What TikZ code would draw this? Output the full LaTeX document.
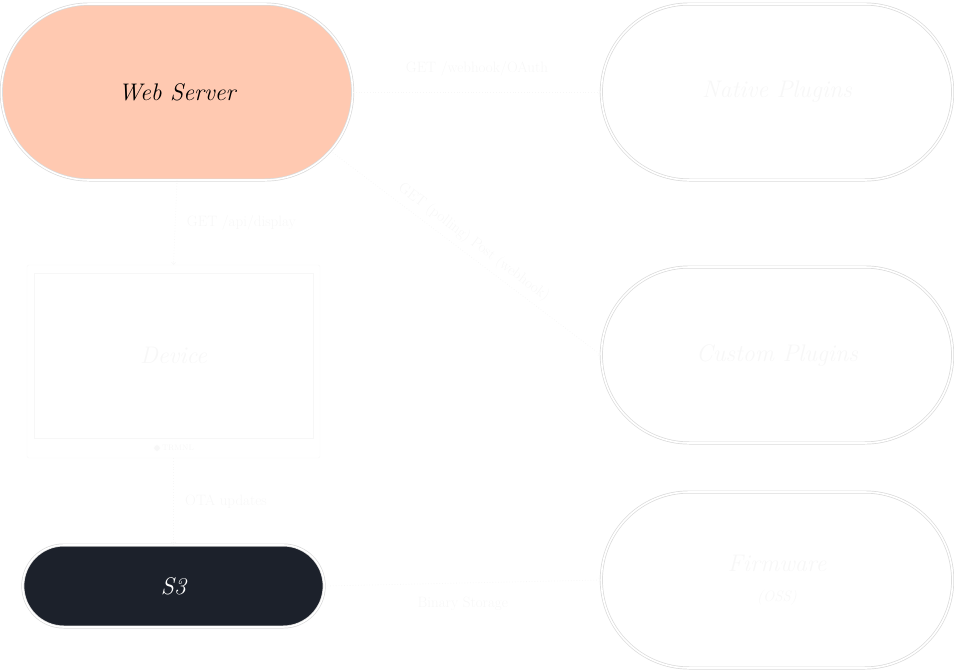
\documentclass[tikz,border=0pt]{standalone}
\usetikzlibrary{shapes.misc,shapes.geometric,positioning}
\definecolor{webpeach}{RGB}{255,201,177}
\definecolor{sdark}{RGB}{28,33,43}
\definecolor{rimgrey}{RGB}{218,218,218}
\definecolor{ghost}{RGB}{247,247,247}
\begin{document}
\begin{tikzpicture}[x=1pt,y=-1pt,
    pill/.style={draw=rimgrey, double=white, double distance=1.6pt, line width=0.7pt,
        rounded rectangle, minimum width=358pt, minimum height=176pt,
        font=\fontsize{24}{28}\selectfont\itshape, text=ghost, align=center},
    flow/.style={->, ghost, dotted, line width=0.8pt},
    tag/.style={font=\fontsize{15}{18}\selectfont, text=ghost}]
            \useasboundingbox (0,0) rectangle (954,670);
            % Define nodes
            \node[pill, fill=webpeach, text=black] (web) at (177,92) {Web Server};
            \node[pill] (native) at (777,92) {Native Plugins};
            \node[pill] (custom) at (777,355) {Custom Plugins};
            \node[pill] (firmware) at (777,580) {Firmware\\[2pt]{\fontsize{15}{17}\selectfont (OSS)}};
            \node[draw=ghost, rounded corners=2pt, minimum width=293pt, minimum height=193pt] (device) at (173.5,361.5) {};
            \node[draw=ghost, minimum width=279pt, minimum height=165pt,
                font=\fontsize{24}{28}\selectfont\itshape, text=ghost] (screen) at (173.5,355.5) {Device};
            \node[star, star points=8, fill=ghost, inner sep=0pt, minimum size=7pt] (logo) at (157,448) {};
            \node[right=0pt of logo, font=\fontsize{8}{9}\selectfont, text=ghost, inner sep=1pt] (brand) {TRMNL};
            \node[pill, fill=sdark, text=white, minimum width=308pt, minimum height=82pt] (s3) at (173.5,586) {S3};

            % Draw edges
            \draw[flow] (web.east) -- (native.west) node[midway, above=12pt, tag] {GET /webhook/OAuth};
            \draw[flow] (web.-21) -- (custom.west) node[midway, sloped, above=2pt, tag] {GET (polling) Post (webhook)};
            \draw[flow] (web.south) -- (device.north) node[midway, right=8pt, tag] {GET /api/display};
            \draw[flow] (device.south) -- (s3.north) node[midway, right=8pt, tag] {OTA updates};
            \draw[flow] (s3.east) -- (firmware.west) node[midway, below=10pt, tag] {Binary Storage};
        \end{tikzpicture}
\end{document}
